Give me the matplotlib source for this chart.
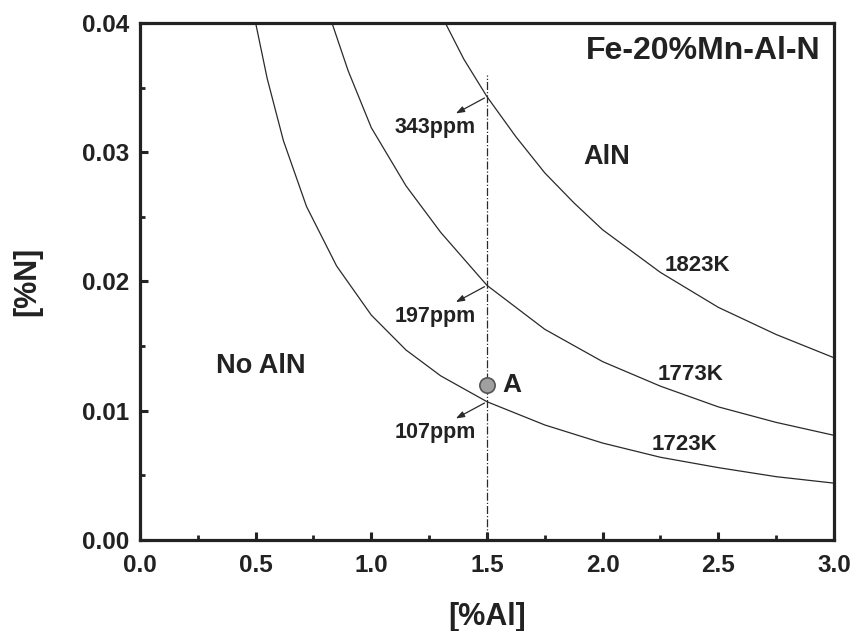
import matplotlib.pyplot as plt

plt.rcParams['font.family'] = ['Liberation Sans', 'DejaVu Sans']
plt.rcParams['font.weight'] = 'bold'

# Solubility curves of AlN at three temperatures, [%Al] vs [%N]
al_1723 = [0.50, 0.55, 0.62, 0.72, 0.85, 1.00, 1.15, 1.30, 1.50, 1.75, 2.00, 2.25, 2.50, 2.75, 3.00]
n_1723 = [0.0400, 0.0357, 0.0309, 0.0258, 0.0212, 0.0174, 0.0147, 0.0127, 0.0107, 0.0089,
          0.0075, 0.0064, 0.0056, 0.0049, 0.0044]

al_1773 = [0.83, 0.90, 1.00, 1.15, 1.30, 1.50, 1.75, 2.00, 2.25, 2.50, 2.75, 3.00]
n_1773 = [0.0400, 0.0363, 0.0319, 0.0274, 0.0238, 0.0197, 0.0163, 0.0138, 0.0119, 0.0103,
          0.0091, 0.0081]

al_1823 = [1.32, 1.40, 1.50, 1.625, 1.75, 1.875, 2.00, 2.25, 2.50, 2.75, 3.00]
n_1823 = [0.0400, 0.0372, 0.0343, 0.0312, 0.0284, 0.0261, 0.0240, 0.0207, 0.0180, 0.0159, 0.0141]

temps = ['1723K', '1773K', '1823K']

# nitrogen limit at 1.5 %Al
al_cut = 1.5
ppm_vals = [107, 197, 343]

# point A
al_a, n_a = 1.5, 0.012

fig = plt.figure(figsize=(8.55, 6.31), dpi=100)
ax = fig.add_axes([0.1637, 0.1442, 0.8117, 0.8194])

for x, y in [(al_1723, n_1723), (al_1773, n_1773), (al_1823, n_1823)]:
    ax.plot(x, y, color='#2a2a2a', lw=0.9)

ax.plot([al_cut, al_cut], [0, 0.036], color='#2a2a2a', lw=0.9, ls='-.')

for ppm in ppm_vals:
    yv = ppm / 1e4
    ax.annotate('', xy=(al_cut - 0.145, yv - 0.0014), xytext=(al_cut, yv),
                arrowprops=dict(arrowstyle='-|>,head_length=0.5,head_width=0.18',
                                color='#2a2a2a', lw=0.9))
    ax.text(al_cut - 0.225, yv - 0.0024, f'{ppm}ppm', fontsize=15.5,
            ha='center', va='center', color='#222222')

ax.plot(al_a, n_a, 'o', ms=11, mfc='#a0a0a0', mec='#555555', mew=1.2)
ax.text(al_a + 0.065, n_a, 'A', fontsize=19, va='center', ha='left', color='#222222')

ax.text(2.408, 0.0212, temps[2], fontsize=16, ha='center', va='center', color='#222222')
ax.text(2.380, 0.0128, temps[1], fontsize=16, ha='center', va='center', color='#222222')
ax.text(2.354, 0.0074, temps[0], fontsize=16, ha='center', va='center', color='#222222')

ax.text(2.019, 0.0296, 'AlN', fontsize=19.5, ha='center', va='center', color='#222222')
ax.text(0.521, 0.0135, 'No AlN', fontsize=19.5, ha='center', va='center', color='#222222')
ax.text(2.94, 0.0378, 'Fe-20%Mn-Al-N', fontsize=23, ha='right', va='center', color='#222222')

ax.set_xlim(0, 3.0)
ax.set_ylim(0, 0.04)
ax.set_xticks([0.0, 0.5, 1.0, 1.5, 2.0, 2.5, 3.0])
ax.set_xticks([0.25, 0.75, 1.25, 1.75, 2.25, 2.75], minor=True)
ax.set_yticks([0.00, 0.01, 0.02, 0.03, 0.04])
ax.set_yticks([0.005, 0.015, 0.025, 0.035], minor=True)
ax.set_xticklabels(['0.0', '0.5', '1.0', '1.5', '2.0', '2.5', '3.0'])
ax.set_yticklabels(['0.00', '0.01', '0.02', '0.03', '0.04'])

ax.tick_params(which='major', direction='in', length=6, width=2.2, labelsize=17.5,
               colors='#222222')
ax.tick_params(axis='x', which='major', pad=10)
ax.tick_params(axis='y', which='major', pad=8)
ax.tick_params(which='minor', direction='in', length=3.5, width=2.0, colors='#222222')
for s in ax.spines.values():
    s.set_linewidth(2.3)
    s.set_color('#222222')

ax.set_xlabel('[%Al]', fontsize=22, fontweight='bold', labelpad=18, color='#222222')
ax.set_ylabel('[%N]', fontsize=22, fontweight='bold', labelpad=28, color='#222222')

fig.savefig('out.png', dpi=100)
